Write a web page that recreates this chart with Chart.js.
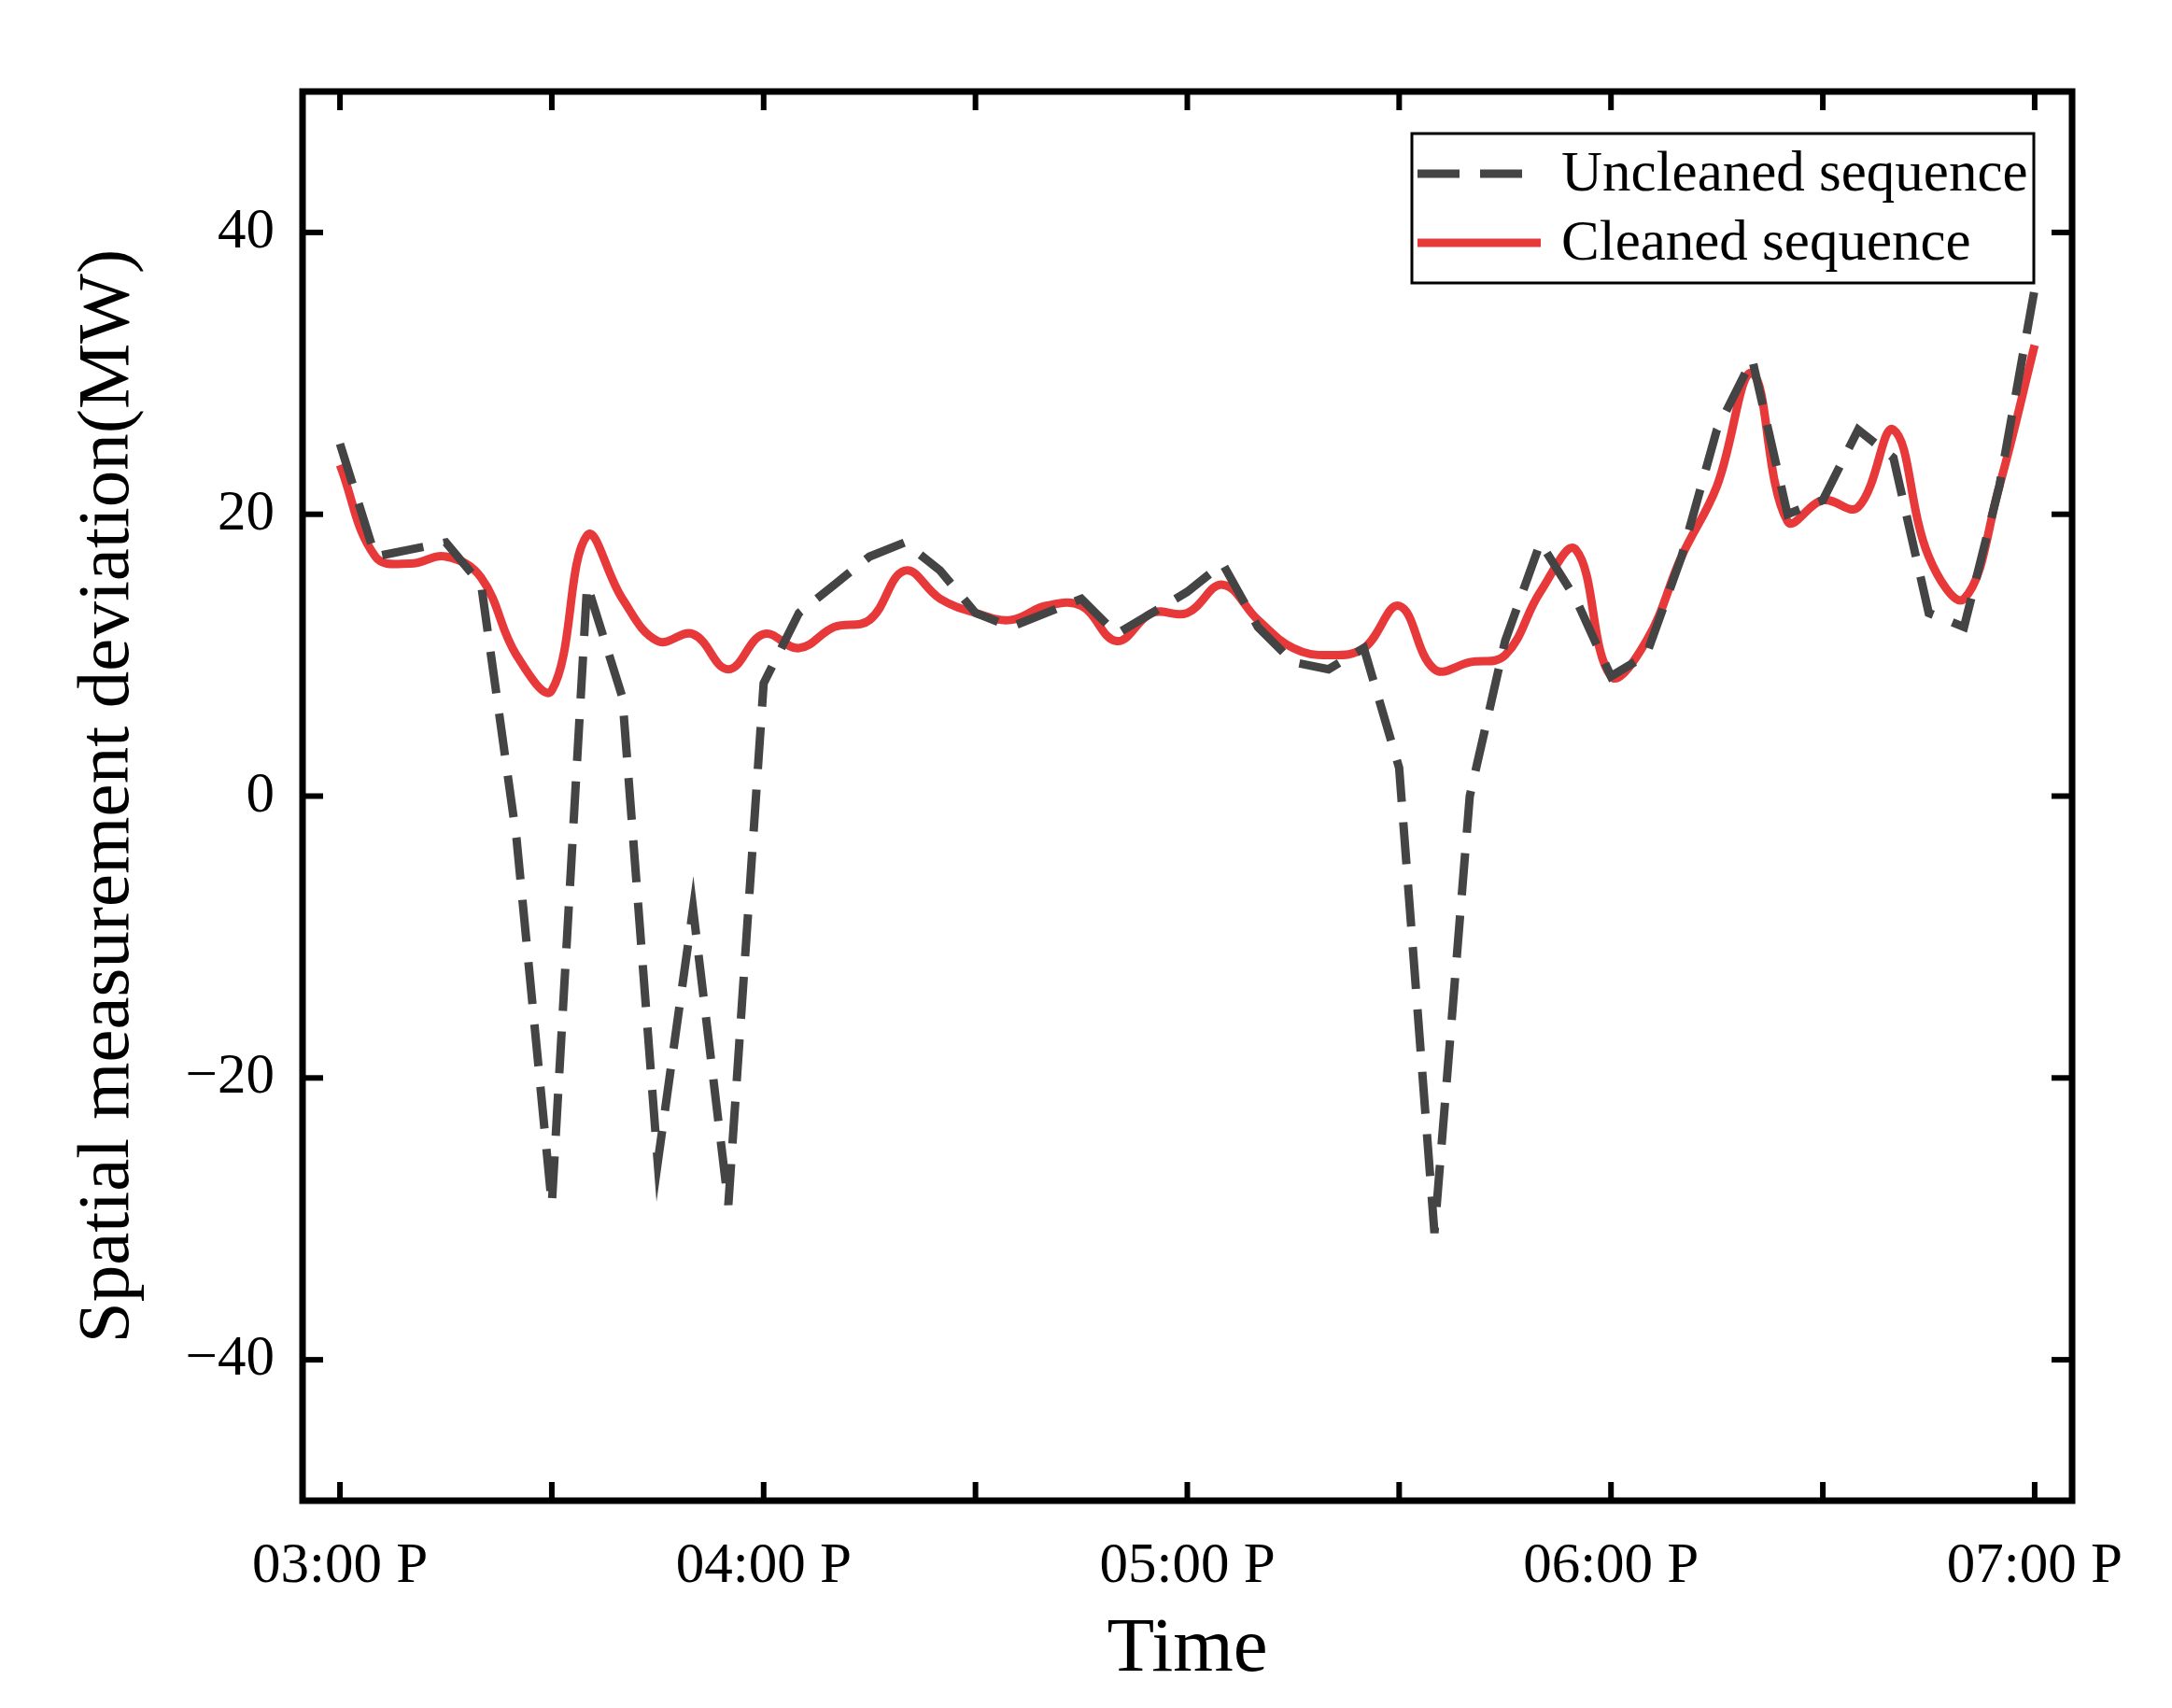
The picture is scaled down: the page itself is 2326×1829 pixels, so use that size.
<!DOCTYPE html>
<html><head><meta charset="utf-8">
<script src="https://cdn.jsdelivr.net/npm/chart.js@4"></script>
<style>html,body{margin:0;background:#fff}#w{width:2326px;height:1829px}</style>
</head><body><div id="w"><canvas id="c"></canvas></div>
<script>
const minutes = [0,5,10,15,20,25,30,35,40,45,50,55,60,65,70,75,80,85,90,95,100,105,110,115,120,125,130,135,140,145,150,155,160,165,170,175,180,185,190,195,200,205,210,215,220,225,230,235,240];
const uncleaned = [25,17,17.5,18,15,-3,-29,15,7,-26,-8,-29,8,13,15,17,18,16,13,12,13,14,11.5,13,14.5,16.5,12,9.5,9,10.5,2,-31,0,11,18,14,8.5,10,17,26,31,20,21,26,24,13,12,22,36];
const cleaned = [23.5,17,16.5,17,15.5,10,7.5,18.5,14,11,11.5,9,11.5,10.5,12,12.5,16,14,13,12.5,13.5,13.5,11,13,13,15,12.5,10.5,10,10.5,13.5,9,9.5,10,14.5,17.5,8.5,11,17,22,30,19.5,21,20.5,26,17,14,22,32];
const hourLabels = {0:'03:00 P',60:'04:00 P',120:'05:00 P',180:'06:00 P',240:'07:00 P'};
const yTicks = [-40,-20,0,20,40];
const legendNames = ['Uncleaned sequence','Cleaned sequence'];
const FONT = '"Liberation Serif", "Times New Roman", serif';

const frame = {
  id:'frame',
  afterDraw(ch){
    const {ctx, chartArea:a, scales:{x,y}} = ch;
    ctx.save();
    ctx.strokeStyle='#000'; ctx.lineWidth=7;
    ctx.strokeRect(a.left,a.top,a.right-a.left,a.bottom-a.top);
    ctx.lineWidth=6;
    for(let m=0;m<=240;m+=30){
      const px=x.getPixelForValue(m), L = 20;
      ctx.beginPath();ctx.moveTo(px,a.bottom);ctx.lineTo(px,a.bottom-L);ctx.stroke();
      ctx.beginPath();ctx.moveTo(px,a.top);ctx.lineTo(px,a.top+L);ctx.stroke();
    }
    for(let v=-40;v<=40;v+=20){
      const py=y.getPixelForValue(v), L = 22;
      ctx.beginPath();ctx.moveTo(a.left,py);ctx.lineTo(a.left+L,py);ctx.stroke();
      ctx.beginPath();ctx.moveTo(a.right,py);ctx.lineTo(a.right-L,py);ctx.stroke();
    }
    ctx.fillStyle='#000';
    ctx.font='83px '+FONT; ctx.textAlign='center'; ctx.textBaseline='middle';
    ctx.fillText('Time',(a.left+a.right)/2,1767);
    ctx.save(); ctx.translate(116,(a.top+a.bottom)/2); ctx.rotate(-Math.PI/2);
    ctx.font='79px '+FONT; ctx.fillText('Spatial measurement deviation(MW)',0,0); ctx.restore();
    ctx.lineWidth=3; ctx.strokeRect(1512,143,666,160);
    ctx.font='61px '+FONT; ctx.textAlign='left';
    const rows=[[186,'#444',[45,22]],[260,'#e8393a',[]]];
    rows.forEach((r,i)=>{
      ctx.strokeStyle=r[1]; ctx.lineWidth=9; ctx.setLineDash(r[2]);
      ctx.beginPath();ctx.moveTo(1518,r[0]);ctx.lineTo(1650,r[0]);ctx.stroke();
      ctx.setLineDash([]);
      ctx.fillText(legendNames[i],1672,r[0]+2);
    });
    ctx.restore();
  }
};

new Chart(document.getElementById('c'),{
  type:'line',
  data:{datasets:[
    {data:minutes.map((m,i)=>({x:m,y:uncleaned[i]})),borderColor:'#444',borderWidth:9,borderDash:[45,22],pointRadius:0,tension:0},
    {data:minutes.map((m,i)=>({x:m,y:cleaned[i]})),borderColor:'#e8393a',borderWidth:9,pointRadius:0,tension:0.4}
  ]},
  options:{
    responsive:true,maintainAspectRatio:false,animation:false,devicePixelRatio:1,
    layout:{padding:{top:98,right:107,left:0,bottom:0}},
    plugins:{legend:{display:false},tooltip:{enabled:false}},
    scales:{
      x:{type:'linear',min:-5.3,max:245.3,
        afterBuildTicks(s){s.ticks=[0,30,60,90,120,150,180,210,240].map(v=>({value:v}));},
        afterFit(s){s.height=222;},
        grid:{display:false},border:{display:false},
        ticks:{autoSkip:false,maxRotation:0,padding:26,color:'#000',font:{family:FONT,size:61},callback:v=>hourLabels[v]||''}},
      y:{min:-50,max:50,
        afterBuildTicks(s){s.ticks=yTicks.map(v=>({value:v}));},
        afterFit(s){s.width=324;},
        grid:{display:false},border:{display:false},
        ticks:{padding:22,color:'#000',font:{family:FONT,size:61},callback:v=>v<0?'\u2212'+(-v):String(v)}}
    }
  },
  plugins:[frame]
});
</script></body></html>
